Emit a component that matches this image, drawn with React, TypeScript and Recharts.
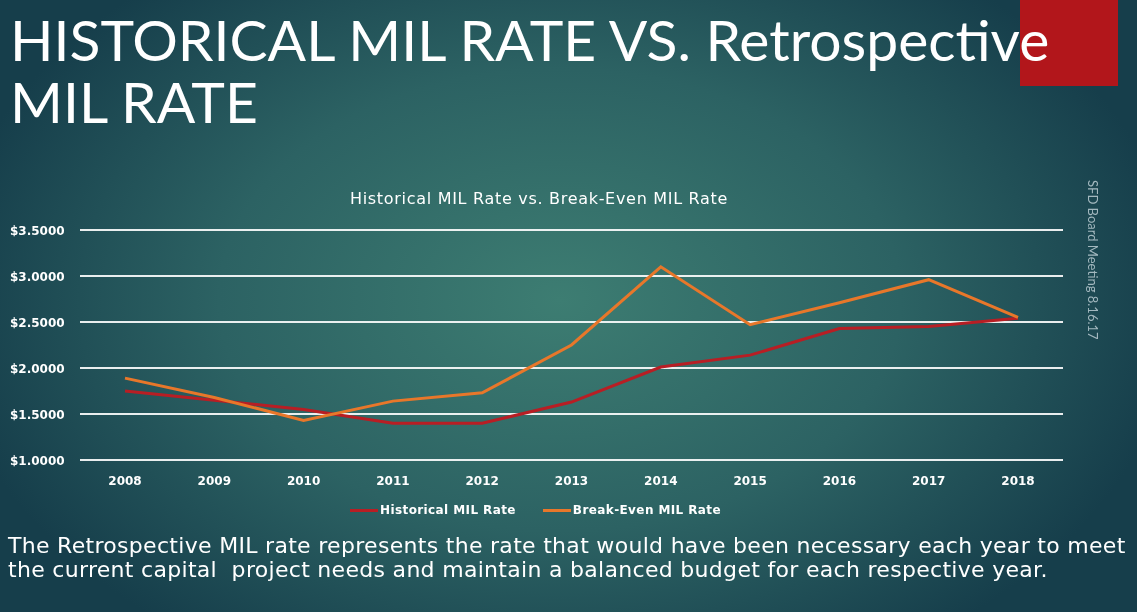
import React from 'react';
import { LineChart, Line, XAxis, YAxis, CartesianGrid } from 'recharts';

const years = ['2008', '2009', '2010', '2011', '2012', '2013', '2014', '2015', '2016', '2017', '2018'];
const historical = [1.75, 1.65, 1.55, 1.4, 1.4, 1.63, 2.01, 2.14, 2.43, 2.45, 2.54];
const breakEven = [1.89, 1.68, 1.43, 1.64, 1.73, 2.25, 3.1, 2.47, 2.71, 2.96, 2.55];
const yTicks = [1.0, 1.5, 2.0, 2.5, 3.0, 3.5];

const data = years.map((year, i) => ({
  year,
  historical: historical[i],
  breakEven: breakEven[i],
}));

const RED = '#b81e24';
const ORANGE = '#e8772a';
const TITLE_FONT = 'Lato, "Open Sans", sans-serif';
const BODY_FONT = '"DejaVu Sans", Lato, sans-serif';

const YTick = (props: any) => {
  const { y, payload } = props;
  return (
    <text x={10} y={y} dy={5} fill="#ffffff" fontSize={12} fontWeight={700} fontFamily={BODY_FONT} textAnchor="start">
      ${payload.value.toFixed(4)}
    </text>
  );
};

const LegendBox = () => (
  <div
    style={{
      position: 'absolute',
      left: 350,
      top: 503,
      display: 'flex',
      alignItems: 'center',
      fontFamily: BODY_FONT,
      fontSize: 12,
      fontWeight: 700,
      letterSpacing: 0.4,
      color: '#ffffff',
    }}
  >
    <span style={{ width: 28, height: 3, background: RED, marginRight: 2 }} />
    <span>Historical MIL Rate</span>
    <span style={{ width: 28, height: 3, background: ORANGE, marginLeft: 27, marginRight: 2 }} />
    <span>Break-Even MIL Rate</span>
  </div>
);

export default function App() {
  return (
    <div
      style={{
        position: 'fixed',
        left: 0,
        top: 0,
        width: 1137,
        height: 612,
        overflow: 'hidden',
        background: 'radial-gradient(ellipse 620px 420px at 560px 300px, #3d7d72 0%, #2c6263 55%, #163e4b 100%)',
        fontFamily: TITLE_FONT,
      }}
    >
      <div style={{ position: 'absolute', left: 1020, top: 0, width: 98, height: 86, background: '#b2161b' }} />
      <div
        style={{
          position: 'absolute',
          left: 10,
          top: 8,
          color: '#ffffff',
          fontSize: 57,
          fontWeight: 400,
          lineHeight: '62px',
          whiteSpace: 'nowrap',
        }}
      >
        HISTORICAL MIL RATE VS. Retrospective
        <br />
        MIL RATE
      </div>
      <div
        style={{
          position: 'absolute',
          left: 1101,
          top: 180,
          transformOrigin: '0 0',
          transform: 'rotate(90deg)',
          color: '#a3b8bf',
          fontSize: 13,
          whiteSpace: 'nowrap',
        }}
      >
        SFD Board Meeting 8.16.17
      </div>
      <div
        style={{
          position: 'absolute',
          left: 0,
          width: 1078,
          top: 189,
          textAlign: 'center',
          color: '#ffffff',
          fontFamily: BODY_FONT,
          fontSize: 16,
          letterSpacing: 0.7,
        }}
      >
        Historical MIL Rate vs. Break-Even MIL Rate
      </div>
      <div style={{ position: 'absolute', left: 0, top: 180 }}>
        <LineChart width={1137} height={320} data={data} margin={{ top: 50, right: 74, bottom: 0, left: 0 }}>
          <CartesianGrid vertical={false} stroke="#ffffff" strokeWidth={2} strokeOpacity={0.9} />
          <XAxis
            dataKey="year"
            axisLine={false}
            tickLine={false}
            height={40}
            padding={{ left: 45, right: 45 }}
            tick={{ fill: '#ffffff', fontSize: 12, fontWeight: 700, fontFamily: BODY_FONT }}
            tickMargin={10}
          />
          <YAxis
            domain={[1, 3.5]}
            ticks={yTicks}
            width={80}
            axisLine={false}
            tickLine={false}
            tick={<YTick />}
          />
          <Line
            type="linear"
            dataKey="historical"
            stroke={RED}
            strokeWidth={3}
            dot={false}
            isAnimationActive={false}
          />
          <Line
            type="linear"
            dataKey="breakEven"
            stroke={ORANGE}
            strokeWidth={3}
            dot={false}
            isAnimationActive={false}
          />
        </LineChart>
      </div>
      <LegendBox />
      <div
        style={{
          position: 'absolute',
          left: 8,
          top: 534,
          color: '#ffffff',
          fontFamily: BODY_FONT,
          fontSize: 22,
          letterSpacing: 0.3,
          lineHeight: '24px',
          whiteSpace: 'nowrap',
        }}
      >
        The Retrospective MIL rate represents the rate that would have been necessary each year to meet
        <br />
        the current capital&nbsp; project needs and maintain a balanced budget for each respective year.
      </div>
    </div>
  );
}
